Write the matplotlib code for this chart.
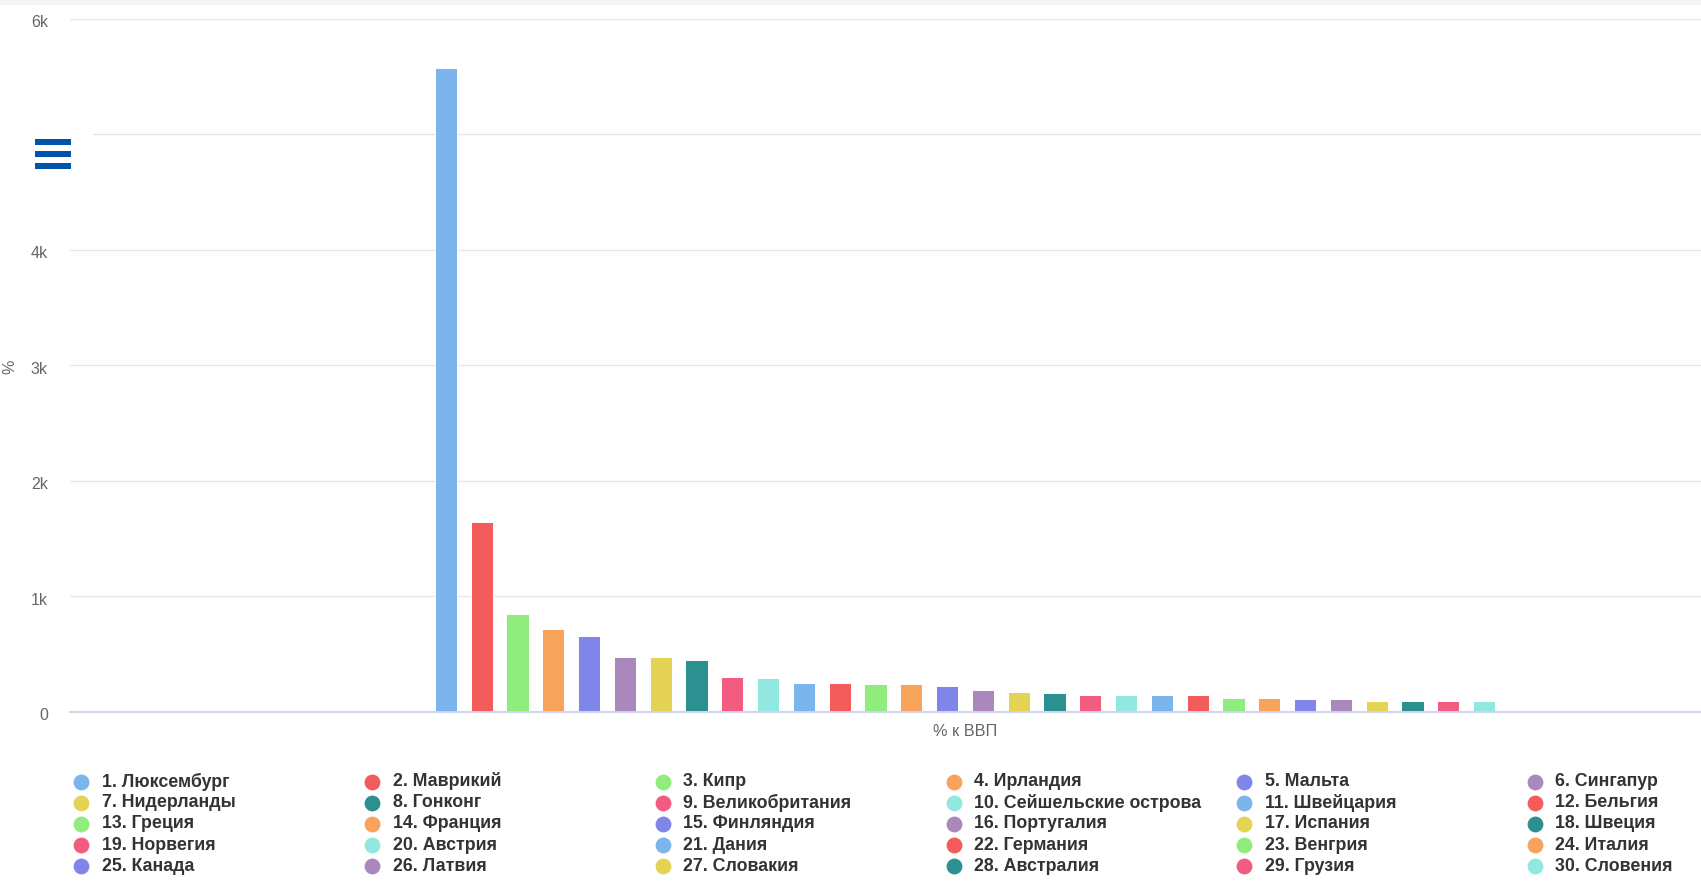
import numpy as np
import matplotlib.pyplot as plt
from matplotlib.patches import Rectangle
from matplotlib.transforms import ScaledTranslation

plt.rcParams['font.family'] = ['Liberation Sans', 'DejaVu Sans']

# Data
countries = ['Люксембург', 'Маврикий', 'Кипр', 'Ирландия', 'Мальта', 'Сингапур',
             'Нидерланды', 'Гонконг', 'Великобритания', 'Сейшельские острова',
             'Швейцария', 'Бельгия', 'Греция', 'Франция', 'Финляндия',
             'Португалия', 'Испания', 'Швеция', 'Норвегия', 'Австрия',
             'Дания', 'Германия', 'Венгрия', 'Италия', 'Канада',
             'Латвия', 'Словакия', 'Австралия', 'Грузия', 'Словения']
values = [5576, 1640, 846, 716, 653, 474, 473, 445, 298, 289,
          248, 248, 239, 239, 222, 185, 170, 162, 144, 144,
          144, 144, 118, 118, 107, 107, 92, 92, 92, 92]
category = '% к ВВП'
yticks = [0, 1000, 2000, 3000, 4000, 5000, 6000]
ytick_labels = ['0', '1k', '2k', '3k', '4k', '5k', '6k']
palette = ['#7cb5ec', '#f45b5b', '#90ed7d', '#f7a35c', '#8085e9',
           '#aa88bb', '#e4d354', '#2b908f', '#f15c80', '#91e8e1']
colors = [palette[i % len(palette)] for i in range(len(values))]

W, H = 1701, 884
fig = plt.figure(figsize=(W / 100, H / 100), dpi=100)
ax = fig.add_axes([70 / W, (H - 711.7) / H, 1631 / W, 692.7 / H])

x = np.arange(len(values))
ax.bar(x, values, width=0.62, color=colors, edgecolor='white', linewidth=0.7, zorder=3)
ax.set_xlim(-10.5, 35.06)
ax.set_ylim(0, 6000)

ax.set_yticks(yticks)
ax.set_yticklabels(ytick_labels)
ax.set_xticks([(len(values) - 1) / 2])
ax.set_xticklabels([category])
ax.tick_params(axis='y', length=0, pad=16, labelsize=11.5, labelcolor='#666666')
ax.tick_params(axis='x', length=0, pad=9, labelsize=11.7, labelcolor='#666666')
# highcharts puts y labels a little below the grid line
for lab in ax.get_yticklabels():
    lab.set_transform(lab.get_transform() + ScaledTranslation(0, -0.025, fig.dpi_scale_trans))
ax.grid(axis='y', color='#e6e6e6', linewidth=1.0, zorder=0)
ax.set_axisbelow(True)
for s in ['top', 'right', 'left']:
    ax.spines[s].set_visible(False)
ax.spines['bottom'].set_color('#ccd6eb')
ax.spines['bottom'].set_linewidth(1.4)
ax.spines['bottom'].set_zorder(4)

ax.set_ylabel('%', fontsize=11.5, color='#666666', va='center')
ax.yaxis.set_label_coords((10 - 70) / 1631, (711.7 - 367) / 692.7)

# overlay in pixel coordinates: legend, export button, top band
ov = fig.add_axes([0, 0, 1, 1], zorder=5)
ov.set_xlim(0, W)
ov.set_ylim(H, 0)
ov.axis('off')

ov.add_patch(Rectangle((0, 0), W, 5, color='#f4f4f4', lw=0))
ov.add_patch(Rectangle((20, 118), 73, 68, color='white', lw=0))
for yb in [139, 151, 163]:
    ov.add_patch(Rectangle((35, yb), 36, 6, color='#0055aa', lw=0))

col_x = 81.4
col_step = 290.7
row_y = 781.5
row_step = 21.2
for i, name in enumerate(countries):
    r, c = divmod(i, 6)
    cx = col_x + c * col_step
    cy = row_y + r * row_step
    ov.scatter([cx], [cy], s=130, color=colors[i], linewidths=0)
    ov.text(cx + 20.5, cy, f'{i + 1}. {name}', fontsize=12.8, fontweight='bold',
            color='#333333', va='center', ha='left')

fig.savefig('out.png', dpi=100, facecolor='white')
